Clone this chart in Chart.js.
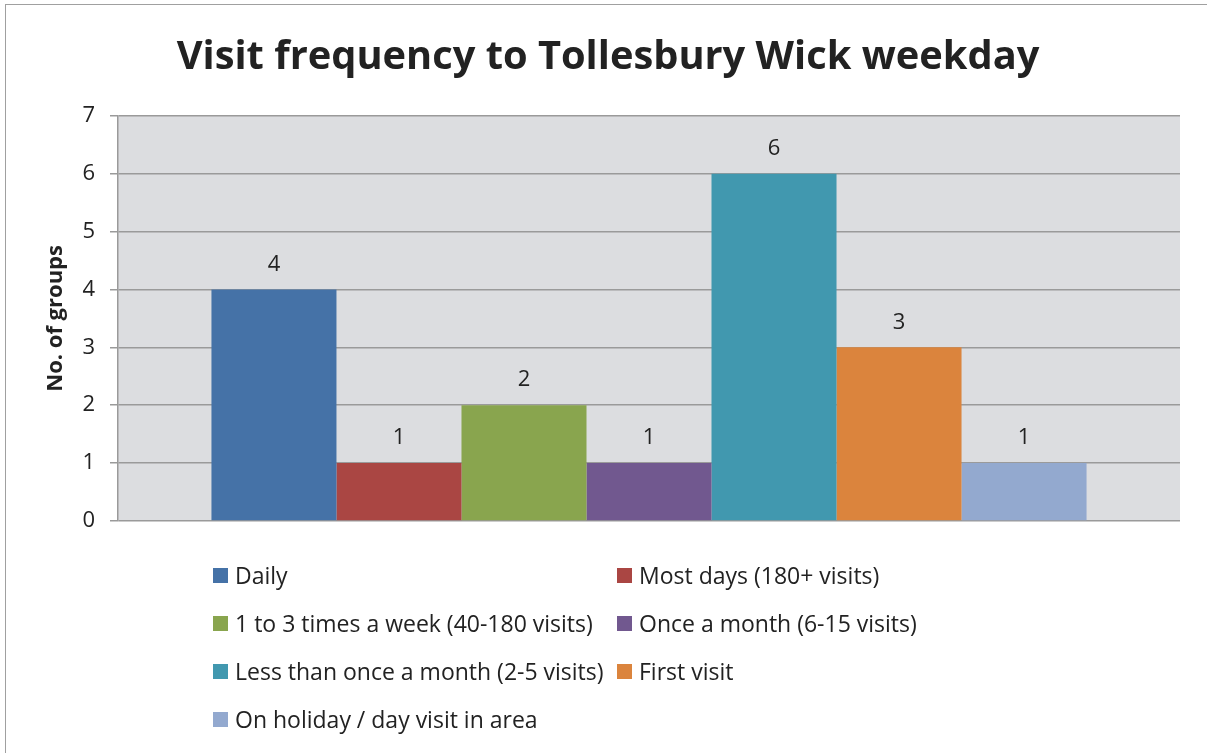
<!DOCTYPE html>
<html><head><meta charset="utf-8">
<script src="https://cdn.jsdelivr.net/npm/chart.js@4"></script>
<style>
html,body{margin:0;padding:0;background:#fff;width:1207px;height:753px;overflow:hidden;}
#frame{position:absolute;left:5px;top:4px;width:1220px;height:780px;border-left:1.5px solid #a0a0a0;border-top:1.5px solid #a0a0a0;box-sizing:border-box;}
#c{position:absolute;left:0;top:0;}
#legend{position:absolute;left:0;top:0;width:1207px;height:753px;font-family:'Open Sans',sans-serif;font-size:23px;color:#222;}
.item{position:absolute;display:flex;align-items:center;white-space:nowrap;height:28px;}
.sw{width:15px;height:15px;margin-right:7px;flex:none;}
</style>
</head><body>
<div id="frame"></div>
<canvas id="c" width="1207" height="753"></canvas>
<div id="legend"></div>
<script>
const chartTitle = 'Visit frequency to Tollesbury Wick weekday';
const yAxisTitle = 'No. of groups';
const categories = ['Weekday'];
const seriesNames = [
  'Daily',
  'Most days (180+ visits)',
  '1 to 3 times a week (40-180 visits)',
  'Once a month (6-15 visits)',
  'Less than once a month (2-5 visits)',
  'First visit',
  'On holiday / day visit in area'
];
const seriesValues = [4, 1, 2, 1, 6, 3, 1];
const seriesColors = ['#4572A7', '#AA4643', '#89A54E', '#71588F', '#4198AF', '#DB843D', '#93A9CF'];
const yTickMin = 0, yTickMax = 7, yTickStep = 1;

const FONT = "'Open Sans', sans-serif";

const plotBg = {
  id: 'plotBg',
  beforeDraw(chart) {
    const {ctx, chartArea: a} = chart;
    ctx.save();
    ctx.fillStyle = '#dcdde0';
    ctx.fillRect(a.left, a.top, a.right - a.left, a.bottom - a.top);
    ctx.restore();
  }
};
const valueLabels = {
  id: 'valueLabels',
  afterDatasetsDraw(chart) {
    const ctx = chart.ctx;
    ctx.save();
    ctx.font = '22px ' + FONT;
    ctx.fillStyle = '#222';
    ctx.textAlign = 'center';
    ctx.textBaseline = 'middle';
    chart.data.datasets.forEach((ds, i) => {
      chart.getDatasetMeta(i).data.forEach((el, j) => {
        ctx.fillText(String(ds.data[j]), el.x, el.y - 25);
      });
    });
    ctx.restore();
  }
};

new Chart(document.getElementById('c'), {
  type: 'bar',
  data: {
    labels: categories,
    datasets: seriesNames.map((n, i) => ({
      label: n,
      data: [seriesValues[i]],
      backgroundColor: seriesColors[i],
      borderWidth: 0,
      categoryPercentage: 0.824,
      barPercentage: 1
    }))
  },
  options: {
    responsive: false,
    animation: false,
    devicePixelRatio: 1,
    layout: {padding: {left: 36, right: 27, top: 0, bottom: 232}},
    plugins: {
      legend: {display: false},
      tooltip: {enabled: false},
      title: {
        display: true,
        text: chartTitle,
        color: '#222',
        font: {family: FONT, size: 39.8, weight: 'bold', lineHeight: 1.2},
        padding: {top: 34, bottom: 34}
      }
    },
    scales: {
      x: {
        ticks: {display: false},
        grid: {display: false},
        border: {display: false},
        afterFit: s => { s.height = 0; }
      },
      y: {
        min: yTickMin, max: yTickMax,
        ticks: {stepSize: yTickStep, color: '#222', font: {family: FONT, size: 22}, padding: 15},
        grid: {color: '#9a9a9a', lineWidth: 1.5, tickLength: 8},
        border: {color: '#9a9a9a', width: 1.5},
        title: {display: true, text: yAxisTitle, color: '#222', font: {family: FONT, size: 22, weight: 'bold'}, padding: {top: 7, bottom: 0}},
        afterFit: s => { s.width = 82; }
      }
    }
  },
  plugins: [plotBg, valueLabels]
});

// HTML legend built from the series arrays
const legendCols = [213, 617];
const legendRows = [575, 623, 671, 719];
const lg = document.getElementById('legend');
seriesNames.forEach((n, i) => {
  const d = document.createElement('div');
  d.className = 'item';
  d.style.left = legendCols[i % 2] + 'px';
  d.style.top = (legendRows[Math.floor(i / 2)] - 14) + 'px';
  const sw = document.createElement('span');
  sw.className = 'sw';
  sw.style.background = seriesColors[i];
  const t = document.createElement('span');
  t.textContent = n;
  d.appendChild(sw); d.appendChild(t);
  lg.appendChild(d);
});
</script>
</body></html>
